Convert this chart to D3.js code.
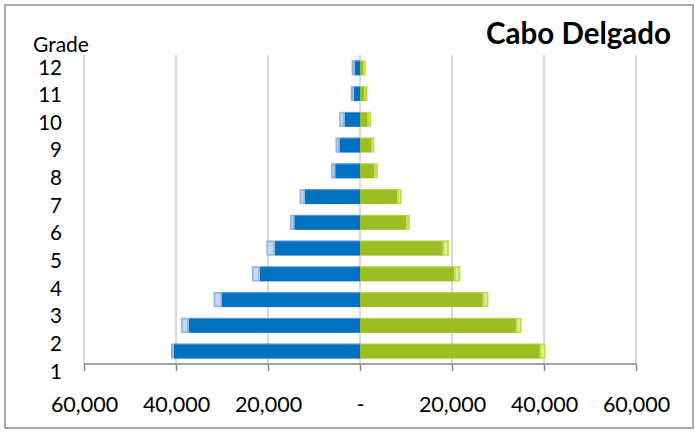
<!DOCTYPE html>
<html>
<head>
<meta charset="utf-8">
<script src="https://cdn.jsdelivr.net/npm/d3@7"></script>
<style>
  html, body { margin: 0; padding: 0; background: #fff; }
  svg { display: block; font-family: Lato, "Open Sans", sans-serif; }
</style>
</head>
<body>
<svg id="chart" width="695" height="432"></svg>
<script>
// Grades (bottom to top)
const grades = [1, 2, 3, 4, 5, 6, 7, 8, 9, 10, 11, 12];
// Left side (blue): main and end segment
const blueMain  = [40500, 37300, 30000, 21800, 18600, 14300, 12000, 5400, 4500, 3400, 1400, 1200];
const blueExtra = [600, 1600, 1800, 1700, 1700, 900, 1100, 900, 800, 1100, 600, 600];
// Right side (green): main and end segment
const greenMain  = [39100, 33900, 26700, 20500, 18000, 10100, 8100, 3200, 2400, 1700, 1000, 700];
const greenExtra = [1200, 1200, 1200, 1300, 1300, 700, 900, 700, 700, 700, 600, 500];
const xTicks = [-60000, -40000, -20000, 0, 20000, 40000, 60000];
const yLabels = ["1","2","3","4","5","6","7","8","9","10","11","12"];
const title = "Cabo Delgado";
const yTitle = "Grade";

const svg = d3.select("#chart");
const W = 695, H = 432;
const plot = { left: 84, right: 636, top: 55, bottom: 364 };

svg.append("rect").attr("x", 0).attr("y", 0).attr("width", W).attr("height", H).attr("fill", "#fff");
svg.append("rect").attr("x", 5).attr("y", 5).attr("width", 688).attr("height", 423)
  .attr("fill", "none").attr("stroke", "#8e8e8e").attr("stroke-width", 1.5);

const x = d3.scaleLinear().domain([-60000, 60000]).range([plot.left, plot.right]);
const y = d3.scaleBand().domain(grades).range([plot.bottom, plot.top])
  .paddingInner(0.42).paddingOuter(0.21);

// gridlines
svg.append("g").selectAll("line").data(xTicks).join("line")
  .attr("x1", d => x(d)).attr("x2", d => x(d))
  .attr("y1", plot.top).attr("y2", plot.bottom)
  .attr("stroke", "#d9d9d9").attr("stroke-width", 2);

// bars
const rows = grades.map((g, i) => ({
  g, bm: blueMain[i], be: blueExtra[i], gm: greenMain[i], ge: greenExtra[i]
}));
const bars = svg.append("g");
const bh = y.bandwidth();

function seg(x0, x1, yy, fill, stroke) {
  const a = Math.min(x0, x1), b = Math.max(x0, x1);
  bars.append("rect").attr("x", a).attr("y", yy).attr("width", b - a).attr("height", bh)
    .attr("fill", fill);
  if (stroke) {
    bars.append("rect").attr("x", a + 0.75).attr("y", yy + 0.75)
      .attr("width", Math.max(0, b - a - 1.5)).attr("height", bh - 1.5)
      .attr("fill", "none").attr("stroke", stroke).attr("stroke-width", 1.5);
  }
}
rows.forEach(r => {
  const yy = y(r.g);
  // blue (left)
  seg(x(0), x(-r.bm), yy, "#0070c0", null);
  seg(x(-r.bm), x(-(r.bm + r.be)), yy, "#c6d9f1", "#8db4e2");
  bars.append("line").attr("x1", x(-(r.bm + r.be))).attr("x2", x(0))
    .attr("y1", yy + 0.5).attr("y2", yy + 0.5).attr("stroke", "#8db4e2").attr("stroke-width", 1).attr("opacity", 0.6);
  // green (right)
  seg(x(0), x(r.gm), yy, "#9bbf23", null);
  seg(x(r.gm), x(r.gm + r.ge), yy, "#dcef9c", "#bddd45");
  bars.append("line").attr("x1", x(0)).attr("x2", x(r.gm + r.ge))
    .attr("y1", yy + 0.5).attr("y2", yy + 0.5).attr("stroke", "#c3e05a").attr("stroke-width", 1).attr("opacity", 0.6);
});

// x axis
const xAxis = d3.axisBottom(x).tickValues(xTicks).tickSize(7).tickPadding(26)
  .tickFormat(d => d === 0 ? "-" : d3.format(",")(Math.abs(d)));
const gx = svg.append("g").attr("transform", `translate(0,${plot.bottom})`).call(xAxis);
gx.select(".domain").attr("stroke", "#868686").attr("stroke-width", 1.5)
  .attr("d", `M${plot.left},0H${plot.right}`);
gx.selectAll(".tick line").attr("stroke", "#868686").attr("stroke-width", 1.5);
gx.selectAll(".tick text").attr("fill", "#000").style("font-size", "21.5px")
  .style("font-family", "Lato, 'Open Sans', sans-serif");

// y labels (grade labels)
const yl = d3.scalePoint().domain(yLabels).range([371.5, 67.5]);
const gy = svg.append("g").attr("transform", "translate(62,0)")
  .call(d3.axisLeft(yl).tickSize(0).tickPadding(0));
gy.select(".domain").remove();
gy.selectAll(".tick text").attr("fill", "#000").style("font-size", "20.5px")
  .style("font-family", "Lato, 'Open Sans', sans-serif");

svg.append("text").attr("x", 33).attr("y", 52).text(yTitle)
  .style("font-size", "21px").attr("fill", "#000");

svg.append("text").attr("x", 671).attr("y", 44).attr("text-anchor", "end").text(title)
  .style("font-size", "29.5px").style("font-weight", "bold").attr("fill", "#000");
</script>
</body>
</html>
